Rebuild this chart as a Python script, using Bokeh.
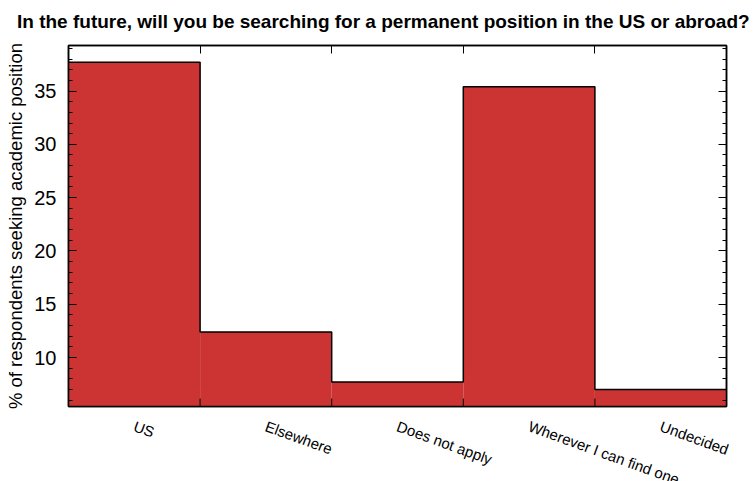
import math
from bokeh.plotting import figure
from bokeh.models import Range1d, LinearAxis, FixedTicker, Div
from bokeh.layouts import column
from bokeh.embed import file_html
from bokeh.resources import INLINE

title_text = "In the future, will you be searching for a permanent position in the US or abroad?"
categories = ["US", "Elsewhere", "Does not apply", "Wherever I can find one", "Undecided"]
percent = [37.7, 12.4, 7.7, 35.4, 7.0]
y_ticks = [10, 15, 20, 25, 30, 35]
y_minor = list(range(6, 40))

edges = list(range(len(categories) + 1))
centers = [i + 0.5 for i in range(len(categories))]
y_min, y_max = 5.41, 39.27
FONT = "Liberation Sans"

p = figure(width=756, height=458, output_backend="svg", toolbar_location=None,
           x_range=Range1d(0, len(categories)), y_range=Range1d(y_min, y_max),
           x_axis_type=None, y_axis_type=None,
           min_border_left=68, min_border_right=30, min_border_top=5, min_border_bottom=92)
p.outline_line_color = "black"
p.outline_line_width = 1.5
p.background_fill_color = "white"
p.border_fill_color = "white"

def make_axis(ticker, labels=False, minor=False):
    ax = LinearAxis(ticker=ticker)
    ax.axis_line_color = "black"
    ax.axis_line_width = 1.5
    ax.major_tick_in = 8
    ax.major_tick_out = 0
    ax.major_tick_line_color = "black"
    ax.major_tick_line_width = 1
    if minor:
        ax.minor_tick_in = 4
        ax.minor_tick_out = 0
        ax.minor_tick_line_color = "black"
    else:
        ax.minor_tick_line_color = None
    if labels:
        ax.major_label_text_font = FONT
        ax.major_label_text_font_size = "20px"
        ax.major_label_text_color = "black"
        ax.major_label_standoff = 12
    else:
        ax.major_label_text_font_size = "0px"
        ax.major_label_standoff = 0
    return ax

yticker = FixedTicker(ticks=y_ticks, minor_ticks=y_minor)
left = make_axis(yticker, labels=True, minor=True)
left.axis_label = "% of respondents seeking academic position"
left.axis_label_text_font = FONT
left.axis_label_text_font_size = "18.5px"
left.axis_label_text_font_style = "normal"
left.axis_label_text_color = "black"
left.axis_label_standoff = 5
p.add_layout(left, "left")
p.add_layout(make_axis(FixedTicker(ticks=y_ticks, minor_ticks=y_minor), minor=True), "right")
p.add_layout(make_axis(FixedTicker(ticks=edges[1:-1])), "above")

bottom = LinearAxis(ticker=FixedTicker(ticks=centers))
bottom.major_label_overrides = {c: cat for c, cat in zip(centers, categories)}
bottom.major_label_orientation = -math.radians(20)
bottom.major_label_text_font = FONT
bottom.major_label_text_font_size = "15px"
bottom.major_label_text_color = "black"
bottom.major_label_standoff = 13
bottom.major_tick_line_color = None
bottom.minor_tick_line_color = None
bottom.axis_line_color = "black"
bottom.axis_line_width = 1.5
p.add_layout(bottom, "below")

p.quad(left=edges[:-1], right=edges[1:], bottom=0, top=percent,
       fill_color="#cc3333", line_color=None)
p.step(x=edges, y=percent + [percent[-1]], mode="after",
       line_color="black", line_width=1.5)
inner = edges[1:-1]
p.segment(x0=inner, y0=[y_min] * len(inner), x1=inner, y1=[y_min + 0.75] * len(inner),
          line_color="black", line_width=1)

title = Div(text=title_text, width=756, height=30,
            styles={"font-family": FONT, "font-size": "19px", "font-weight": "bold",
                    "color": "black", "white-space": "nowrap",
                    "padding-left": "12px", "padding-top": "6px",
                    "box-sizing": "border-box", "line-height": "22px"})

layout = column(title, p, spacing=0)
open("out.html", "w").write(file_html(layout, INLINE))
